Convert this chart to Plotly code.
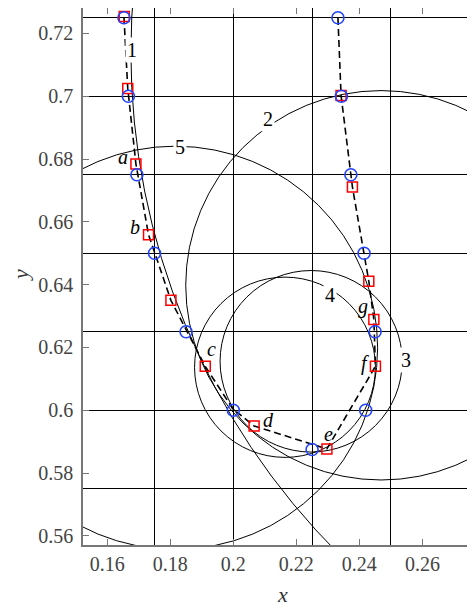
import plotly.graph_objects as go

# blue circles (reference points)
circ_x = [0.1653, 0.1667, 0.1694, 0.175, 0.185, 0.2, 0.225, 0.242, 0.245, 0.2415, 0.2373, 0.2343, 0.2332]
circ_y = [0.725, 0.7, 0.675, 0.65, 0.625, 0.6, 0.5875, 0.6, 0.625, 0.65, 0.675, 0.7, 0.725]

# red squares (computed points)
sq_x = [0.1654, 0.1665, 0.1691, 0.1731, 0.1802, 0.1911, 0.2066, 0.2297, 0.2451, 0.2446, 0.2430, 0.2378, 0.2342]
sq_y = [0.7254, 0.7025, 0.6784, 0.6559, 0.635, 0.614, 0.595, 0.5877, 0.614, 0.6289, 0.6411, 0.6711, 0.7002]

# dashed path
path_x = [0.1653, 0.1665, 0.1691, 0.1731, 0.1802, 0.1911, 0.1998, 0.2066, 0.2297, 0.2451, 0.2446, 0.2430, 0.2378, 0.2342, 0.2332]
path_y = [0.7252, 0.7025, 0.6784, 0.6559, 0.635, 0.614, 0.6005, 0.595, 0.5877, 0.614, 0.6289, 0.6411, 0.6711, 0.7002, 0.725]

# letter labels on the squares
let_txt = ["a", "b", "c", "d", "e", "f", "g"]
let_x = [0.165, 0.1688, 0.1932, 0.2111, 0.2302, 0.2419, 0.2413]
let_y = [0.6806, 0.6583, 0.6195, 0.5968, 0.5926, 0.6148, 0.6329]

# numbered circles: centre, radius, label position
ring_no = ["1", "2", "3", "4", "5"]
ring_cx = [0.394, 0.2469, 0.2247, 0.2164, 0.1816]
ring_cy = [0.714, 0.6398, 0.6156, 0.6137, 0.6199]
ring_r = [0.2265, 0.062, 0.0289, 0.0287, 0.0642]
ring_lx = [0.1677, 0.2111, 0.2548, 0.2307, 0.1831]
ring_ly = [0.7147, 0.6929, 0.616, 0.6367, 0.6839]

xticks = [0.16, 0.18, 0.2, 0.22, 0.24, 0.26]
yticks = [0.56, 0.58, 0.6, 0.62, 0.64, 0.66, 0.68, 0.7, 0.72]
grid_x = [0.175, 0.2, 0.225, 0.25, 0.275]
grid_y = [0.575, 0.6, 0.625, 0.65, 0.675, 0.7, 0.725]

serif = "Liberation Serif"

fig = go.Figure()
fig.add_trace(go.Scatter(x=path_x, y=path_y, mode="lines",
                         line=dict(color="black", width=1.6, dash="7px,4px")))
fig.add_trace(go.Scatter(x=sq_x, y=sq_y, mode="markers",
                         marker=dict(symbol="square-open", size=10, color="#ff0000", line=dict(width=1.5))))
fig.add_trace(go.Scatter(x=circ_x, y=circ_y, mode="markers",
                         marker=dict(symbol="circle-open", size=12, color="#2244ff", line=dict(width=1.6))))

for cx, cy, r in zip(ring_cx, ring_cy, ring_r):
    fig.add_shape(type="circle", xref="x", yref="y", x0=cx - r, x1=cx + r, y0=cy - r, y1=cy + r,
                  line=dict(color="black", width=1), layer="between")

for t, lx, ly in zip(ring_no, ring_lx, ring_ly):
    fig.add_annotation(x=lx, y=ly, text=t, showarrow=False, bgcolor="white", borderpad=1,
                       font=dict(family=serif, size=20, color="black"))

for t, lx, ly in zip(let_txt, let_x, let_y):
    fig.add_annotation(x=lx, y=ly, text="<i>%s</i>" % t, showarrow=False,
                       font=dict(family=serif, size=20, color="black"))

fig.add_annotation(xref="paper", yref="paper", x=0.508, y=-0.093, xanchor="center", yanchor="middle",
                   text="<i>x</i>", showarrow=False, font=dict(family=serif, size=22, color="#333"))
fig.add_annotation(xref="paper", yref="paper", x=-0.158, y=0.503, xanchor="center", yanchor="middle",
                   text="<i>y</i>", showarrow=False, textangle=-90,
                   font=dict(family=serif, size=22, color="#333"))

axis_common = dict(showgrid=False, zeroline=False, showline=True, linecolor="#777", linewidth=1.5,
                   ticks="inside", ticklen=6, tickcolor="#777", automargin=False,
                   tickfont=dict(family=serif, size=20, color="#444"))

# the page body adds an 8px offset, so the figure is 8px smaller than the window
fig.update_xaxes(range=[0.1523, 0.2767], tickvals=xticks, ticktext=[str(v) for v in xticks],
                 mirror="allticks",
                 minor=dict(tickvals=grid_x, showgrid=True, gridcolor="black", gridwidth=1, ticks=""),
                 **axis_common)
fig.update_yaxes(range=[0.5571, 0.7281], tickvals=yticks, ticktext=[str(v) for v in yticks],
                 ticklabelstandoff=4,
                 minor=dict(tickvals=grid_y, showgrid=True, gridcolor="black", gridwidth=1, ticks=""),
                 **axis_common)

fig.update_layout(width=467, height=600, margin=dict(l=75, r=0, t=0, b=63),
                  plot_bgcolor="white", paper_bgcolor="white", showlegend=False)

fig.write_html("out.html")
